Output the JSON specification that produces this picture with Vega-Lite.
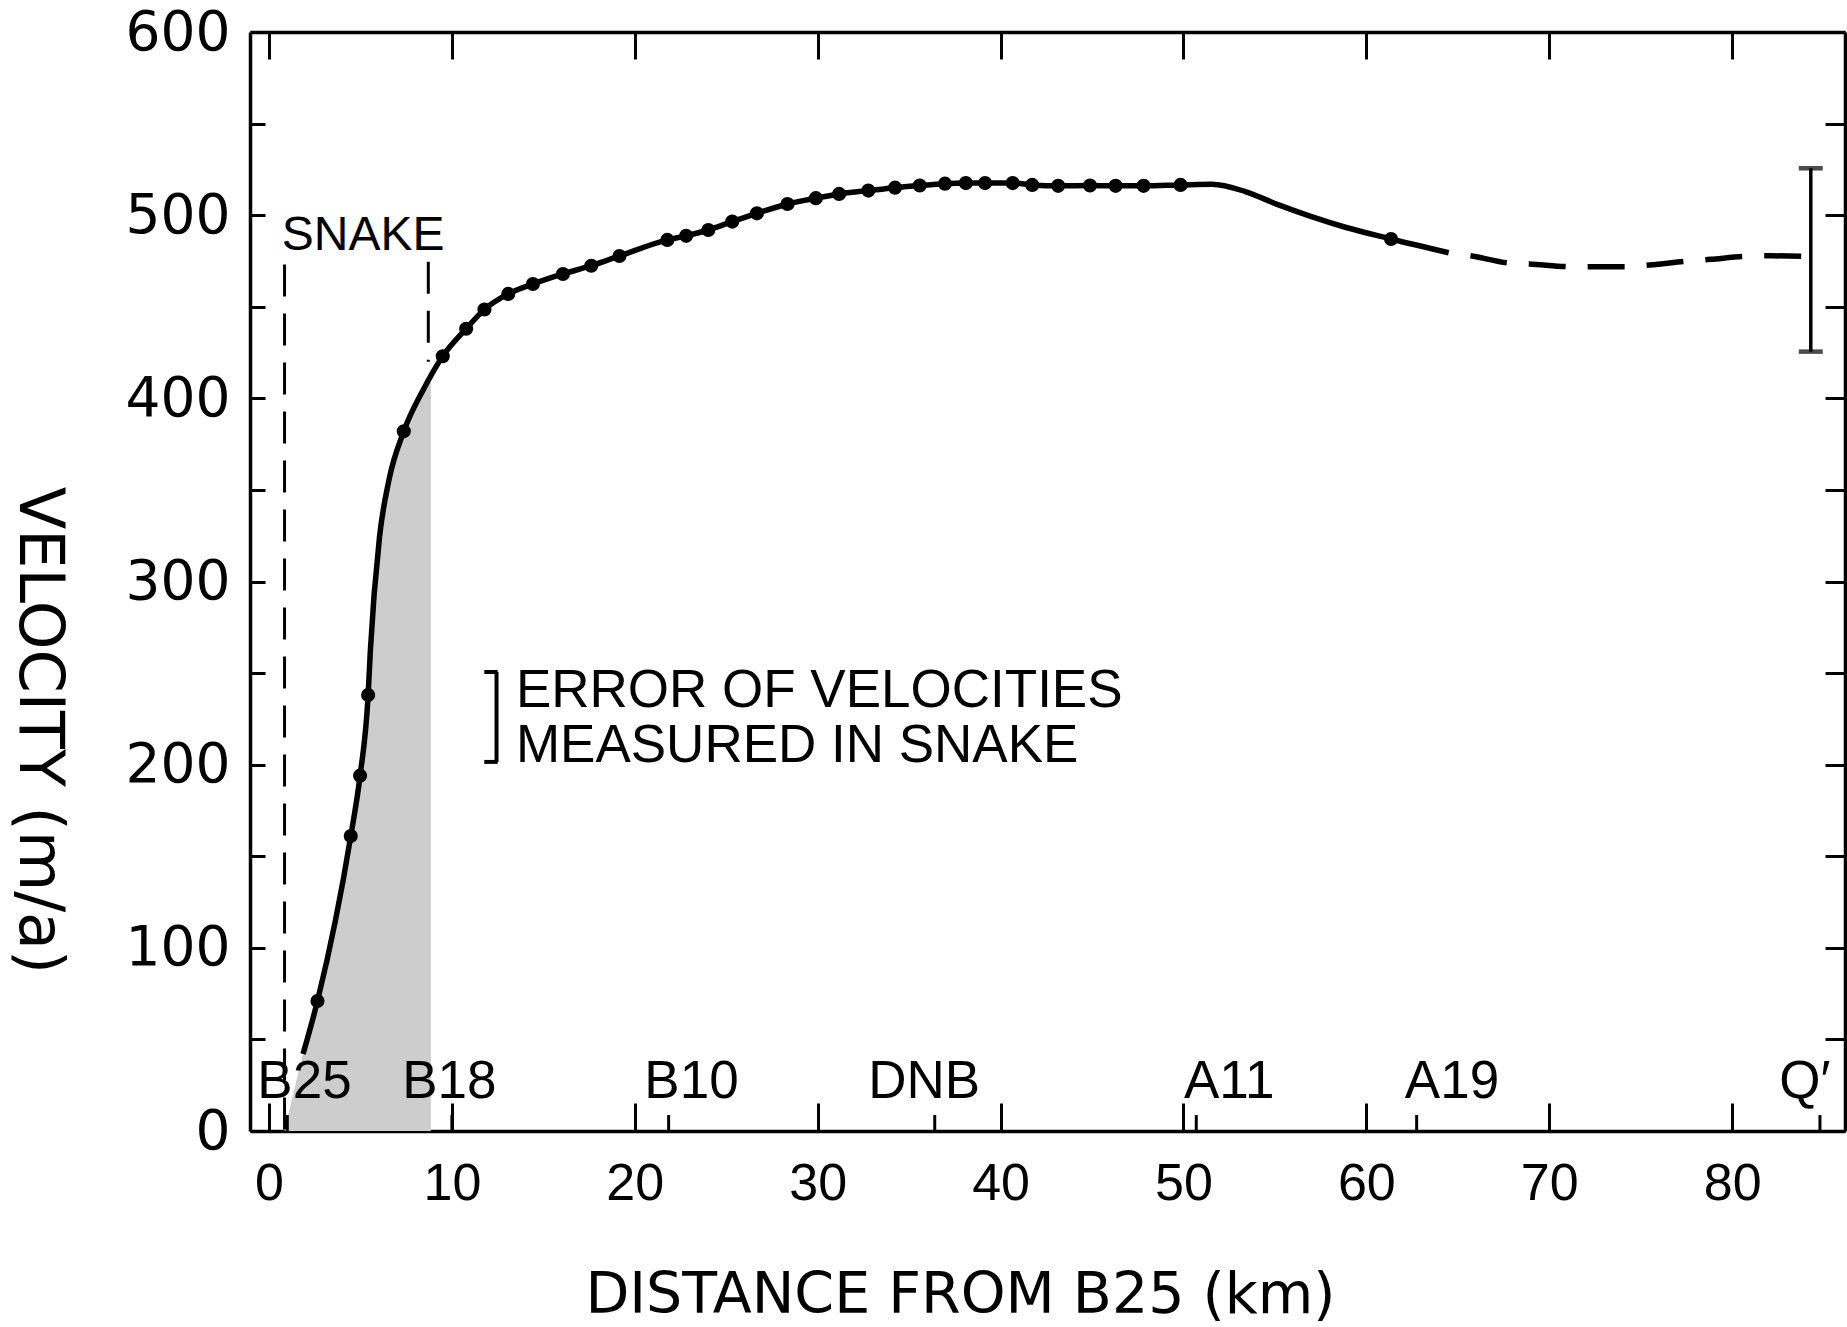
{
  "$schema": "https://vega.github.io/schema/vega-lite/v6.json",
  "width": 1595,
  "height": 1099,
  "autosize": {"type": "none"},
  "padding": {"left": 250, "top": 32, "right": 2, "bottom": 196},
  "background": "white",
  "config": {
    "view": {"stroke": null},
    "axis": {"grid": false, "domainColor": "black", "tickColor": "black", "labelColor": "black", "titleColor": "black", "domainWidth": 3.5, "tickWidth": 3, "labelFlush": false, "labelOverlap": false}
  },
  "resolve": {"axis": {"x": "independent", "y": "independent"}},
  "datasets": {
    "shade": [
      {"km": 0.85, "v": 0}, {"km": 1.86, "v": 42}, {"km": 2.65, "v": 71}, {"km": 4.47, "v": 161},
      {"km": 4.98, "v": 194}, {"km": 5.42, "v": 238}, {"km": 5.54, "v": 262}, {"km": 6.04, "v": 324},
      {"km": 6.55, "v": 355}, {"km": 7.37, "v": 382}, {"km": 8.45, "v": 405}, {"km": 8.85, "v": 409}
    ],
    "curve": [
      {"km": 1.86, "v": 42}, {"km": 2.65, "v": 71}, {"km": 4.47, "v": 161}, {"km": 4.98, "v": 194},
      {"km": 5.42, "v": 238}, {"km": 5.54, "v": 262}, {"km": 6.04, "v": 324}, {"km": 6.55, "v": 355},
      {"km": 7.37, "v": 382}, {"km": 8.45, "v": 405}, {"km": 9.5, "v": 423}, {"km": 10.78, "v": 438},
      {"km": 11.78, "v": 448.5}, {"km": 13.08, "v": 457}, {"km": 14.43, "v": 462.4}, {"km": 16.07, "v": 467.9},
      {"km": 17.62, "v": 472.4}, {"km": 19.16, "v": 477.7}, {"km": 21.78, "v": 486.5}, {"km": 22.81, "v": 488.7},
      {"km": 24.02, "v": 491.9}, {"km": 25.33, "v": 496.5}, {"km": 26.68, "v": 501}, {"km": 28.35, "v": 506.1},
      {"km": 29.9, "v": 509.3}, {"km": 31.17, "v": 511.6}, {"km": 32.77, "v": 513.4}, {"km": 34.23, "v": 515},
      {"km": 35.58, "v": 516.2}, {"km": 36.96, "v": 517.2}, {"km": 38.1, "v": 517.5}, {"km": 39.15, "v": 517.5},
      {"km": 40.66, "v": 517.5}, {"km": 41.73, "v": 516.5}, {"km": 43.15, "v": 516}, {"km": 44.89, "v": 516.2},
      {"km": 46.29, "v": 516}, {"km": 47.82, "v": 516}, {"km": 49.84, "v": 516.5}, {"km": 51.56, "v": 516.9},
      {"km": 53.38, "v": 512.9}, {"km": 55.2, "v": 505.6}, {"km": 57.0, "v": 499.2}, {"km": 58.85, "v": 493.4},
      {"km": 61.35, "v": 487}, {"km": 64.5, "v": 479.5}
    ],
    "dashed": [
      {"km": 64.5, "v": 479.5}, {"km": 65.78, "v": 477.7}, {"km": 67.86, "v": 473.8}, {"km": 68.9, "v": 473.4},
      {"km": 71.17, "v": 471.9}, {"km": 72.38, "v": 471.9}, {"km": 74.22, "v": 471.9}, {"km": 75.5, "v": 472.8},
      {"km": 77.6, "v": 475}, {"km": 78.82, "v": 475.9}, {"km": 80.55, "v": 477.4}, {"km": 82.1, "v": 477.8},
      {"km": 84.3, "v": 477.4}
    ],
    "dots": [
      {"km": 2.65, "v": 71}, {"km": 4.47, "v": 161}, {"km": 4.98, "v": 194}, {"km": 5.42, "v": 238},
      {"km": 7.37, "v": 382}, {"km": 9.5, "v": 423}, {"km": 10.78, "v": 438}, {"km": 11.78, "v": 448.5},
      {"km": 13.08, "v": 457}, {"km": 14.43, "v": 462.4}, {"km": 16.07, "v": 467.9}, {"km": 17.62, "v": 472.4},
      {"km": 19.16, "v": 477.7}, {"km": 21.78, "v": 486.5}, {"km": 22.81, "v": 488.7}, {"km": 24.02, "v": 491.9},
      {"km": 25.33, "v": 496.5}, {"km": 26.68, "v": 501}, {"km": 28.35, "v": 506.1}, {"km": 29.9, "v": 509.3},
      {"km": 31.17, "v": 511.6}, {"km": 32.77, "v": 513.4}, {"km": 34.23, "v": 515}, {"km": 35.58, "v": 516.2},
      {"km": 36.96, "v": 517.2}, {"km": 38.1, "v": 517.5}, {"km": 39.15, "v": 517.5}, {"km": 40.66, "v": 517.5},
      {"km": 41.73, "v": 516.5}, {"km": 43.15, "v": 516}, {"km": 44.89, "v": 516.2}, {"km": 46.29, "v": 516},
      {"km": 47.82, "v": 516}, {"km": 49.84, "v": 516.5}, {"km": 61.35, "v": 487}
    ],
    "snake": [
      {"km": 0.85, "top": 473, "bottom": 0},
      {"km": 8.71, "top": 474.6, "bottom": 420}
    ],
    "stations": [
      {"station": "B25", "km": 1.0, "label_km": 1.94},
      {"station": "B18", "km": 10.0, "label_km": 9.86},
      {"station": "B10", "km": 21.85, "label_km": 23.1},
      {"station": "DNB", "km": 36.4, "label_km": 35.82},
      {"station": "A11", "km": 50.7, "label_km": 52.5},
      {"station": "A19", "km": 62.75, "label_km": 64.68},
      {"station": "Q′", "km": 84.8, "label_km": 83.98}
    ],
    "errbar": [
      {"km": 84.3, "low": 425.5, "mid": 477.4, "high": 525.6}
    ]
  },
  "layer": [
    {
      "data": {"name": "shade"},
      "mark": {"type": "area", "interpolate": "monotone", "fill": "#cdcdcd"},
      "encoding": {
        "x": {"field": "km", "type": "quantitative",
          "scale": {"domain": [-1.039, 86.17], "nice": false, "zero": false},
          "axis": {"orient": "bottom", "values": [0, 10, 20, 30, 40, 50, 60, 70, 80], "tickSize": -28,
            "labelFont": "Liberation Sans", "labelFontSize": 52, "labelPadding": 55,
            "title": "DISTANCE FROM B25 (km)", "titleFont": "DejaVu Sans", "titleFontSize": 57, "titleFontWeight": "normal",
            "titleX": 710, "titleY": 181, "titleAlign": "center", "titleBaseline": "alphabetic"}},
        "y": {"field": "v", "type": "quantitative", "stack": null,
          "scale": {"domain": [0, 600], "nice": false, "zero": false},
          "axis": {"orient": "left", "values": [0, 50, 100, 150, 200, 250, 300, 350, 400, 450, 500, 550, 600],
            "labelExpr": "datum.value % 100 === 0 ? datum.label : ''", "tickSize": -15,
            "labelFont": "DejaVu Sans", "labelFontSize": 55, "labelPadding": 35,
            "title": "VELOCITY (m/a)", "titleFont": "DejaVu Sans", "titleFontSize": 62, "titleFontWeight": "normal",
            "titleAngle": 90, "titleX": -212, "titleY": 698, "titleAlign": "center", "titleBaseline": "middle"}}
      }
    },
    {
      "data": {"name": "curve"},
      "mark": {"type": "line", "interpolate": "monotone", "color": "black", "strokeWidth": 5.5},
      "encoding": {
        "x": {"field": "km", "type": "quantitative", "axis": null},
        "y": {"field": "v", "type": "quantitative", "axis": null}
      }
    },
    {
      "data": {"name": "dashed"},
      "mark": {"type": "line", "interpolate": "monotone", "color": "black", "strokeWidth": 5.5, "strokeDash": [37, 22], "strokeDashOffset": 37},
      "encoding": {
        "x": {"field": "km", "type": "quantitative", "axis": null},
        "y": {"field": "v", "type": "quantitative", "axis": null}
      }
    },
    {
      "data": {"name": "dots"},
      "mark": {"type": "point", "shape": "circle", "filled": true, "color": "black", "size": 200, "opacity": 1},
      "encoding": {
        "x": {"field": "km", "type": "quantitative",
          "axis": {"orient": "top", "values": [0, 10, 20, 30, 40, 50, 60, 70, 80], "labels": false, "tickSize": -27, "title": null}},
        "y": {"field": "v", "type": "quantitative",
          "axis": {"orient": "right", "values": [0, 50, 100, 150, 200, 250, 300, 350, 400, 450, 500, 550, 600], "labels": false, "tickSize": -20, "title": null}}
      }
    },
    {
      "data": {"name": "snake"},
      "mark": {"type": "rule", "color": "black", "strokeWidth": 3, "strokeDash": [32, 17]},
      "encoding": {
        "x": {"field": "km", "type": "quantitative", "axis": null},
        "y": {"field": "top", "type": "quantitative", "axis": null},
        "y2": {"field": "bottom"}
      }
    },
    {
      "data": {"name": "stations"},
      "mark": {"type": "rule", "color": "black", "strokeWidth": 3},
      "encoding": {
        "x": {"field": "km", "type": "quantitative", "axis": null},
        "y": {"datum": 0, "type": "quantitative", "axis": null},
        "y2": {"datum": 8.7}
      }
    },
    {
      "data": {"name": "stations"},
      "mark": {"type": "text", "font": "Liberation Sans", "fontSize": 53, "align": "center", "baseline": "alphabetic", "color": "black"},
      "encoding": {
        "x": {"field": "label_km", "type": "quantitative", "axis": null},
        "y": {"datum": 18, "type": "quantitative", "axis": null},
        "text": {"field": "station"}
      }
    },
    {
      "data": {"name": "errbar"},
      "mark": {"type": "rule", "color": "black", "strokeWidth": 3.5},
      "encoding": {
        "x": {"field": "km", "type": "quantitative", "axis": null},
        "y": {"field": "low", "type": "quantitative", "axis": null},
        "y2": {"field": "high"}
      }
    },
    {
      "data": {"name": "errbar"},
      "mark": {"type": "tick", "orient": "horizontal", "size": 24, "thickness": 4.5, "color": "black"},
      "encoding": {
        "x": {"field": "km", "type": "quantitative", "axis": null},
        "y": {"field": "low", "type": "quantitative", "axis": null}
      }
    },
    {
      "data": {"name": "errbar"},
      "mark": {"type": "tick", "orient": "horizontal", "size": 24, "thickness": 4.5, "color": "black"},
      "encoding": {
        "x": {"field": "km", "type": "quantitative", "axis": null},
        "y": {"field": "high", "type": "quantitative", "axis": null}
      }
    },
    {
      "data": {"values": [{}]},
      "mark": {"type": "rule", "color": "black", "strokeWidth": 4},
      "encoding": {
        "x": {"datum": 12.44, "type": "quantitative", "axis": null},
        "y": {"datum": 201.5, "type": "quantitative", "axis": null},
        "y2": {"datum": 250.6}
      }
    },
    {
      "data": {"values": [{}]},
      "mark": {"type": "rule", "color": "black", "strokeWidth": 4},
      "encoding": {
        "x": {"datum": 11.77, "type": "quantitative", "axis": null},
        "x2": {"datum": 12.5},
        "y": {"datum": 250.6, "type": "quantitative", "axis": null}
      }
    },
    {
      "data": {"values": [{}]},
      "mark": {"type": "rule", "color": "black", "strokeWidth": 4},
      "encoding": {
        "x": {"datum": 11.77, "type": "quantitative", "axis": null},
        "x2": {"datum": 12.5},
        "y": {"datum": 201.5, "type": "quantitative", "axis": null}
      }
    },
    {
      "data": {"values": [{}]},
      "mark": {"type": "text", "font": "Liberation Sans", "fontSize": 53, "align": "left", "baseline": "alphabetic", "color": "black"},
      "encoding": {
        "x": {"datum": 13.5, "type": "quantitative", "axis": null},
        "y": {"datum": 231.3, "type": "quantitative", "axis": null},
        "text": {"value": "ERROR OF VELOCITIES"}
      }
    },
    {
      "data": {"values": [{}]},
      "mark": {"type": "text", "font": "Liberation Sans", "fontSize": 53, "align": "left", "baseline": "alphabetic", "color": "black"},
      "encoding": {
        "x": {"datum": 13.5, "type": "quantitative", "axis": null},
        "y": {"datum": 201.2, "type": "quantitative", "axis": null},
        "text": {"value": "MEASURED IN SNAKE"}
      }
    },
    {
      "data": {"values": [{}]},
      "mark": {"type": "text", "font": "Liberation Sans", "fontSize": 48, "align": "left", "baseline": "alphabetic", "color": "black"},
      "encoding": {
        "x": {"datum": 0.7, "type": "quantitative", "axis": null},
        "y": {"datum": 481.2, "type": "quantitative", "axis": null},
        "text": {"value": "SNAKE"}
      }
    }
  ]
}
